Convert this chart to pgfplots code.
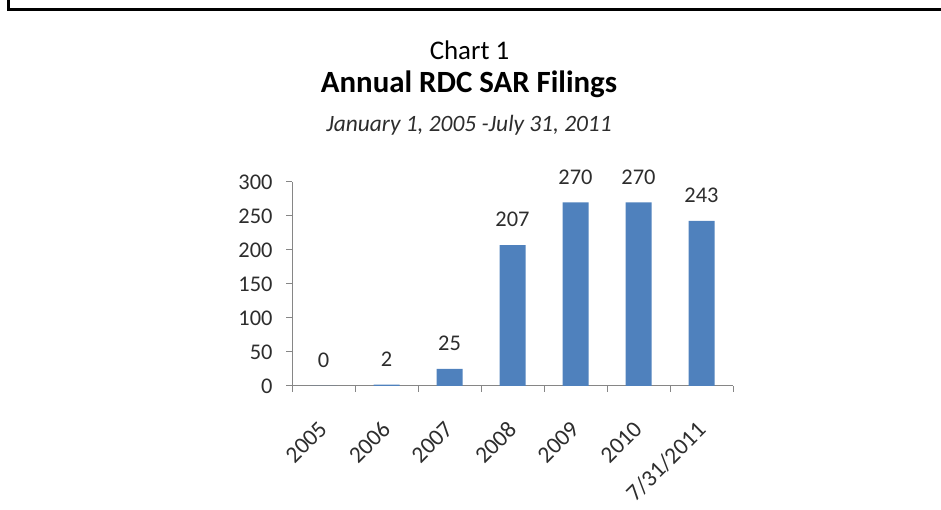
\documentclass[border=0pt]{standalone}
\usepackage{pgfplots}
\pgfplotsset{compat=1.18}
\usepackage{fontspec}
\setmainfont{Carlito}
\definecolor{barblue}{RGB}{79,129,189}
\definecolor{axgray}{RGB}{134,134,134}
\definecolor{lblgray}{RGB}{45,45,45}
\begin{document}
\begin{tikzpicture}[x=1bp,y=1bp]
\path[use as bounding box] (0,0) rectangle (941,510);
\draw[line width=3bp,black] (8.5,510) -- (8.5,500) -- (941,500);
\node[anchor=base, font=\fontsize{27}{32}\selectfont] at (469.5,450) {Chart 1};
\node[anchor=base, font=\fontsize{31}{36}\selectfont\bfseries] at (469,417) {Annual RDC SAR Filings};
\node[anchor=base, font=\fontsize{23.5}{28}\selectfont\itshape, text=lblgray] at (469,378) {January 1, 2005 -July 31, 2011};
\begin{axis}[
  at={(292bp,124bp)}, anchor=south west,
  scale only axis, width=441bp, height=204bp,
  xmin=-0.5, xmax=6.5, ymin=0, ymax=300,
  axis x line=bottom, axis y line=left,
  axis line style={-, axgray, line width=1bp},
  ytick={0,50,...,300},
  xtick={-0.5,0.5,...,6.5}, xticklabels={},
  extra x ticks={0,1,2,3,4,5,6},
  extra x tick labels={2005,2006,2007,2008,2009,2010,7/31/2011},
  extra x tick style={major tick length=0pt, tick label style={font=\fontsize{23.5}{28}\selectfont, xshift=-6bp, yshift=-29bp, rotate=45, anchor=north east}},
  tick style={axgray, line width=1bp},
  major tick length=6bp,
  tick align=outside,
  tick label style={font=\fontsize{22.5}{27}\selectfont, text=lblgray},
  yticklabel style={xshift=-10bp},
  /pgf/number format/assume math mode=true,
  ybar, bar width=26bp,
  nodes near coords,
  every node near coord/.append style={font=\fontsize{22.5}{27}\selectfont, text=lblgray, anchor=south, inner sep=0pt, yshift=18bp},
]
\addplot[fill=barblue, draw=none] coordinates {(0,0) (1,2) (2,25) (3,207) (4,270) (5,270) (6,243)};
\end{axis}
\end{tikzpicture}
\end{document}
